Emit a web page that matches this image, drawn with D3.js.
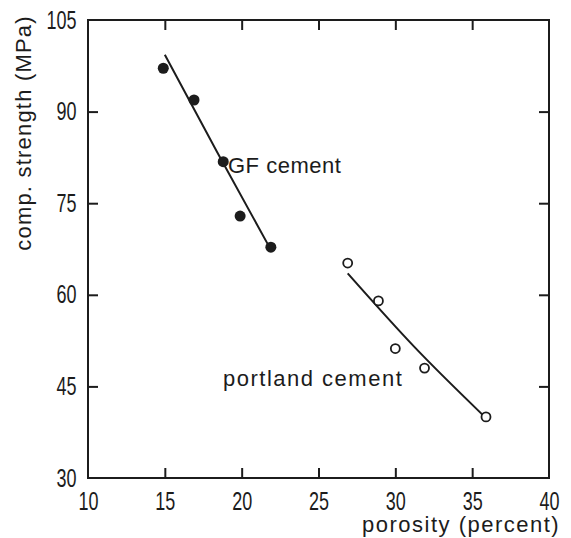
<!DOCTYPE html>
<html>
<head>
<meta charset="utf-8">
<script src="https://cdn.jsdelivr.net/npm/d3@7"></script>
<style>
  body { margin: 0; background: #fff; }
  text { fill: #1c1c1c; font-family: "Liberation Sans", Arial, sans-serif; }
  .tick text { font-family: "Liberation Sans", Arial, sans-serif; font-size: 25px; }
</style>
</head>
<body>
<div id="container"></div>
<script>
// values
const gfPoints = [[14.9, 97.1], [16.9, 91.9], [18.8, 81.8], [19.9, 72.9], [21.9, 67.8]];
const gfFit = [[15.0, 99.3], [18.4, 83.4], [21.85, 67.6]];
const plPoints = [[26.9, 65.2], [28.9, 59.0], [30.0, 51.2], [31.9, 48.0], [35.9, 40.0]];
const plFit = [[26.9, 63.5], [31.3, 51.3], [35.7, 40.3]];
const xTicks = [10, 15, 20, 25, 30, 35, 40];
const yTicks = [30, 45, 60, 75, 90, 105];

const w = 571;
const h = 538;
const ink = '#1c1c1c';
const squeeze = 0.72;   // tick digits are drawn narrow in the original

const svg = d3.select('#container')
              .append('svg')
              .attr('width', w)
              .attr('height', h);

const x = d3.scaleLinear().domain([10, 40]).range([88, 549]);
const y = d3.scaleLinear().domain([30, 105]).range([478, 20]);

// frame
svg.append('rect')
   .attr('x', x(10))
   .attr('y', y(105))
   .attr('width', x(40) - x(10))
   .attr('height', y(30) - y(105))
   .attr('fill', 'none')
   .attr('stroke', ink)
   .attr('stroke-width', 2);

const inner = (arr) => arr.slice(1, -1);

// inward ticks on all four sides
svg.append('g')
   .attr('transform', `translate(0, ${y(30)})`)
   .call(d3.axisBottom(x).tickValues(xTicks).tickSize(-10).tickPadding(14).tickSizeOuter(0))
   .call(g => g.select('.domain').remove())
   .call(g => g.selectAll('line').filter(d => d === 10 || d === 40).remove())
   .call(g => g.selectAll('line').attr('stroke', ink).attr('stroke-width', 2))
   .call(g => g.selectAll('text').attr('dy', '0.71em').attr('fill', ink)
               .attr('transform', `scale(${squeeze},1)`));

svg.append('g')
   .attr('transform', `translate(0, ${y(105)})`)
   .call(d3.axisTop(x).tickValues(inner(xTicks)).tickSize(-10).tickFormat(''))
   .call(g => g.select('.domain').remove())
   .call(g => g.selectAll('line').attr('stroke', ink).attr('stroke-width', 2));

svg.append('g')
   .attr('transform', `translate(${x(10)}, 0)`)
   .call(d3.axisLeft(y).tickValues(yTicks).tickSize(-10).tickPadding(16))
   .call(g => g.select('.domain').remove())
   .call(g => g.selectAll('line').filter(d => d === 30 || d === 105).remove())
   .call(g => g.selectAll('line').attr('stroke', ink).attr('stroke-width', 2))
   .call(g => g.selectAll('text').attr('fill', ink)
               .attr('transform', `scale(${squeeze},1)`));

svg.append('g')
   .attr('transform', `translate(${x(40)}, 0)`)
   .call(d3.axisRight(y).tickValues(inner(yTicks)).tickSize(-10).tickFormat(''))
   .call(g => g.select('.domain').remove())
   .call(g => g.selectAll('line').attr('stroke', ink).attr('stroke-width', 2));

// fitted curves
const line = d3.line()
               .x(d => x(d[0]))
               .y(d => y(d[1]))
               .curve(d3.curveNatural);

svg.append('path')
   .attr('d', line(gfFit))
   .attr('fill', 'none')
   .attr('stroke', ink)
   .attr('stroke-width', 2);

svg.append('path')
   .attr('d', line(plFit))
   .attr('fill', 'none')
   .attr('stroke', ink)
   .attr('stroke-width', 2);

// GF cement, filled dots
svg.selectAll('circle.gf')
   .data(gfPoints)
   .enter()
   .append('circle')
   .attr('class', 'gf')
   .attr('cx', d => x(d[0]))
   .attr('cy', d => y(d[1]))
   .attr('r', 5.5)
   .attr('fill', ink);

// portland cement, open dots
svg.selectAll('circle.pl')
   .data(plPoints)
   .enter()
   .append('circle')
   .attr('class', 'pl')
   .attr('cx', d => x(d[0]))
   .attr('cy', d => y(d[1]))
   .attr('r', 4.5)
   .attr('fill', '#fff')
   .attr('stroke', ink)
   .attr('stroke-width', 1.8);

// labels
svg.append('text')
   .attr('x', 228)
   .attr('y', 173)
   .attr('font-size', 22)
   .attr('letter-spacing', 0.5)
   .text('GF cement');

svg.append('text')
   .attr('x', 223)
   .attr('y', 386)
   .attr('font-size', 22)
   .attr('letter-spacing', 1.5)
   .text('portland cement');

svg.append('text')
   .attr('x', 362)
   .attr('y', 532)
   .attr('font-size', 22)
   .attr('letter-spacing', 1.5)
   .text('porosity (percent)');

svg.append('text')
   .attr('transform', 'translate(31, 133) rotate(-90)')
   .attr('text-anchor', 'middle')
   .attr('font-size', 22)
   .attr('letter-spacing', 1.2)
   .text('comp. strength (MPa)');
</script>
</body>
</html>
